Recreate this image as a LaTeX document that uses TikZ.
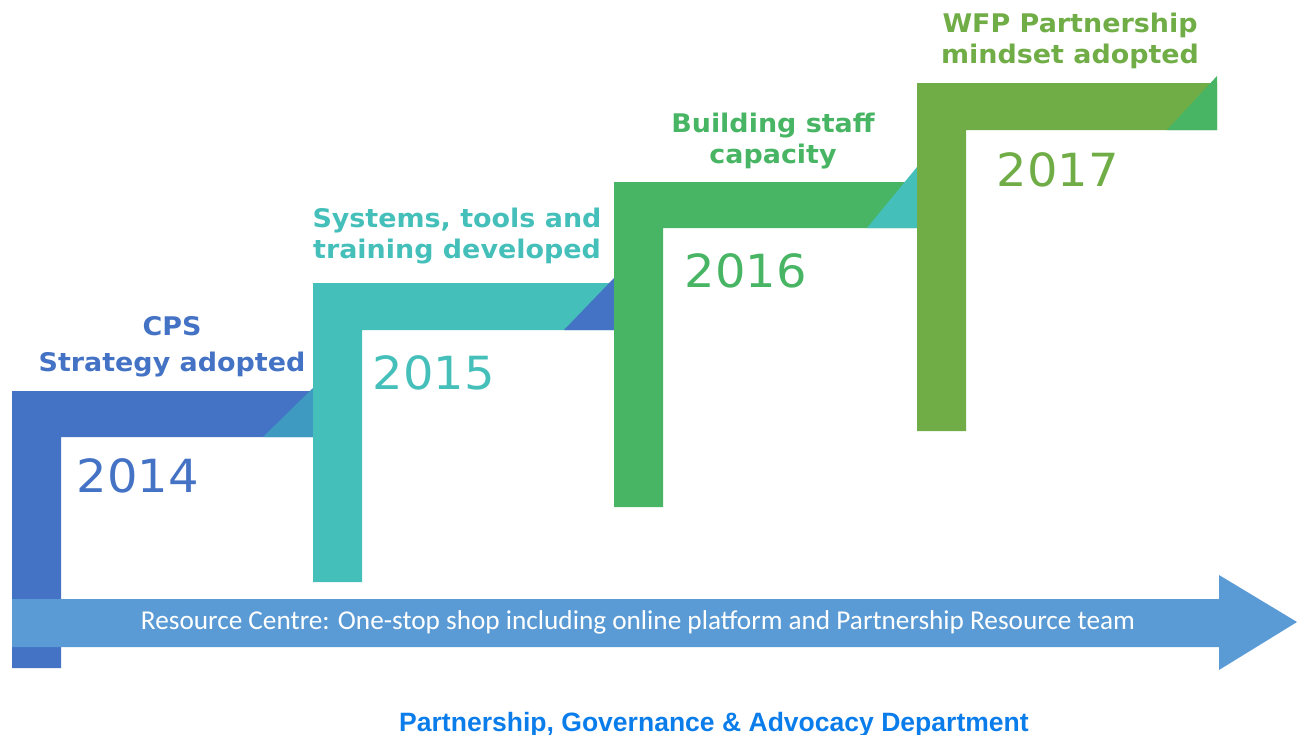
\documentclass[tikz,border=0pt]{standalone}
\usepackage{fontspec}
\setmainfont{DejaVu Sans}
\newfontfamily\widesans[FakeStretch=1.05]{DejaVu Sans}
\newfontfamily\calibri{Carlito}
\newfontfamily\arialfont{Liberation Sans}
\usepackage{xcolor}
\usetikzlibrary{positioning}

\definecolor{stepblue}{HTML}{4472C4}
\definecolor{stepmix}{HTML}{3F9AC1}
\definecolor{stepteal}{HTML}{45BFBA}
\definecolor{stepgreen}{HTML}{47B563}
\definecolor{stepolive}{HTML}{70AD47}
\definecolor{hubblue}{HTML}{5B9BD5}
\definecolor{deptblue}{HTML}{0B7DEB}

\begin{document}
\begin{tikzpicture}
        [
        x=0.02cm, y=-0.02cm,
        milestone/.style = {font=\widesans\bfseries\fontsize{14.6}{17.6}\selectfont, align=center, anchor=base, inner sep=0},
        yearlbl/.style = {font=\widesans\fontsize{26}{30}\selectfont, anchor=base, inner sep=0}
        ]
    \useasboundingbox (0,0) rectangle (1297,734);

    % stairs: left x / bar top / bar bottom / foot / right x / corner tip / colours
    \foreach \x/\top/\bot/\low/\xe/\tip/\col/\tcol in
        {12/391/437/668/313/388/stepblue/stepmix,
         313/283/330/582/614/278/stepteal/stepblue,
         614/182/228/507/917/167/stepgreen/stepteal,
         917/83/130/431/1217/76/stepolive/stepgreen}
    {
        \fill[\col] (\x,\top) -| (\xe,\bot) -| (\x+49,\low) -- (\x,\low) -- cycle;
        \fill[\tcol] (\xe-50,\bot) -- (\xe,\bot) -- (\xe,\tip) -- cycle;
    }

    % resource centre arrow
    \fill[hubblue] (12,599) -- (1219,599) -- (1219,575) -- (1297,622)
        -- (1219,670) -- (1219,647) -- (12,647) -- cycle;

    % milestone captions, anchored on their last line
    \node[milestone, text=stepblue] (cps) at (172,371) {CPS\\[2.8pt]Strategy adopted};
    \node[milestone, text=stepteal] (systems) at (457,258) {Systems, tools and\\training developed};
    \node[milestone, text=stepgreen] (staff) at (773,163) {Building staff\\capacity};
    \node[milestone, text=stepolive] (mindset) at (1070,63) {WFP Partnership\\mindset adopted};

    \node[yearlbl, text=stepblue] (y14) at (138,492) {2014};
    \node[yearlbl, text=stepteal] (y15) at (434,389) {2015};
    \node[yearlbl, text=stepgreen] (y16) at (746,287) {2016};
    \node[yearlbl, text=stepolive] (y17) at (1058,186) {2017};

    \node[font=\calibri\fontsize{15.5}{18}\selectfont, text=white, anchor=base, inner sep=0]
        (hub) at (638,629) {Resource Centre: One-stop shop including online platform and Partnership Resource team};
    \node[font=\arialfont\bfseries\fontsize{15.1}{18}\selectfont, text=deptblue, anchor=base, inner sep=0]
        (dept) at (714,731) {Partnership, Governance \& Advocacy Department};
\end{tikzpicture}
\end{document}
